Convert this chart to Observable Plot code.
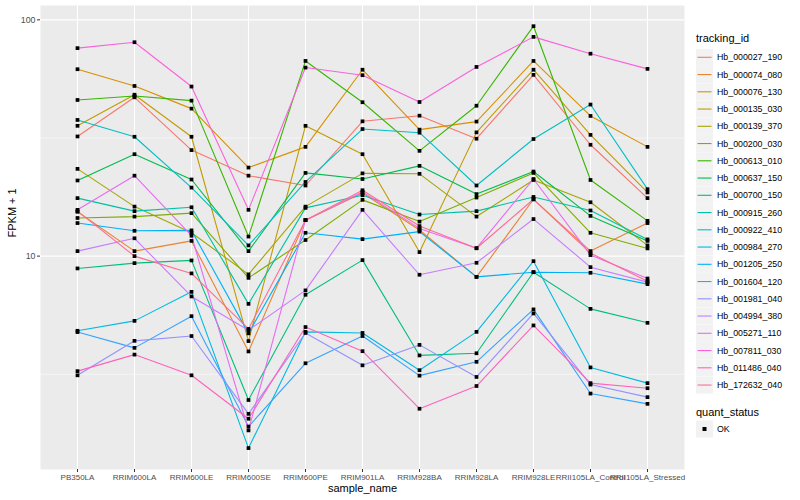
<!DOCTYPE html>
<html><head><meta charset="utf-8">
<script src="https://cdn.jsdelivr.net/npm/d3@7"></script>
<script src="https://cdn.jsdelivr.net/npm/@observablehq/plot@0.6"></script>
<style>
body{margin:0;background:#fff;font-family:"Liberation Sans",Arial,sans-serif;}
#wrap{position:relative;width:800px;height:500px;overflow:hidden;}
#legend{position:absolute;left:0;top:0;}
</style></head><body>
<div id="wrap"><div id="chart"></div><svg id="legend" width="800" height="500"></svg></div>
<script>
const samples = ["PB350LA","RRIM600LA","RRIM600LE","RRIM600SE","RRIM600PE","RRIM901LA","RRIM928BA","RRIM928LA","RRIM928LE","RRII105LA_Control","RRII105LA_Stressed"];
const trackingIds = ["Hb_000027_190","Hb_000074_080","Hb_000076_130","Hb_000135_030","Hb_000139_370","Hb_000200_030","Hb_000613_010","Hb_000637_150","Hb_000700_150","Hb_000915_260","Hb_000922_410","Hb_000984_270","Hb_001205_250","Hb_001604_120","Hb_001981_040","Hb_004994_380","Hb_005271_110","Hb_007811_030","Hb_011486_040","Hb_172632_040"];
const colors = ["#F8766D","#EA8331","#D89000","#C09B00","#A3A500","#7CAE00","#39B600","#00BB4E","#00BF7D","#00C1A3","#00BFC4","#00BAE0","#00B0F6","#35A2FF","#9590FF","#C77CFF","#E76BF3","#FA62DB","#FF62BC","#FF6C91"];

const hb_000027_190 = [32.1, 47.0, 28.1, 21.9, 19.9, 37.2, 39.3, 31.4, 58.5, 29.6, 17.6];
const hb_000074_080 = [15.4, 10.5, 11.6, 3.95, 14.2, 18.5, 12.9, 8.17, 17.4, 10.5, 13.8];
const hb_000076_130 = [61.8, 52.5, 42.1, 23.7, 29.0, 61.5, 34.3, 37.1, 67.0, 39.2, 29.0];
const hb_000135_030 = [35.6, 48.2, 32.0, 4.37, 35.6, 27.0, 10.4, 33.4, 61.5, 32.6, 18.6];
const hb_000139_370 = [23.4, 16.2, 12.55, 8.37, 16.2, 22.4, 22.3, 14.7, 21.0, 16.9, 11.1];
const hb_000200_030 = [14.5, 14.7, 15.2, 8.09, 11.7, 17.3, 14.0, 17.7, 22.5, 12.55, 10.78];
const hb_000613_010 = [45.8, 47.6, 45.5, 12.1, 67.0, 44.8, 27.9, 43.3, 94.0, 21.0, 14.1];
const hb_000637_150 = [20.9, 27.0, 21.1, 10.5, 22.5, 21.2, 24.1, 18.3, 22.8, 14.8, 11.6];
const hb_000700_150 = [8.87, 9.34, 9.59, 2.46, 6.86, 9.62, 3.80, 3.88, 8.55, 5.98, 5.22];
const hb_000915_260 = [17.6, 15.5, 16.1, 6.28, 16.0, 18.1, 15.0, 15.5, 17.8, 15.6, 11.77];
const hb_000922_410 = [37.7, 32.0, 19.5, 11.1, 20.6, 34.5, 33.3, 19.9, 31.3, 43.8, 19.2];
const hb_000984_270 = [4.83, 5.32, 7.06, 1.54, 4.78, 4.73, 3.29, 4.78, 9.52, 3.38, 2.90];
const hb_001205_250 = [13.8, 12.8, 12.85, 4.71, 12.55, 11.8, 12.7, 8.17, 8.55, 8.5, 7.61];
const hb_001604_120 = [4.77, 4.09, 5.57, 1.90, 3.52, 4.59, 3.12, 3.57, 5.95, 2.62, 2.37];
const hb_001981_040 = [3.13, 4.38, 4.59, 2.15, 4.73, 3.45, 4.21, 3.08, 5.72, 2.86, 2.53];
const hb_004994_380 = [10.5, 11.9, 6.75, 4.86, 7.16, 15.7, 8.34, 9.37, 14.35, 8.98, 7.76];
const hb_005271_110 = [15.7, 21.9, 12.2, 1.83, 14.2, 18.7, 13.1, 10.8, 21.2, 10.1, 8.04];
const hb_007811_030 = [75.9, 80.4, 52.2, 15.7, 62.8, 58.3, 44.9, 63.2, 84.7, 71.9, 62.0];
const hb_011486_040 = [3.26, 3.83, 3.13, 2.05, 5.01, 3.96, 2.26, 2.82, 5.09, 2.90, 2.76];
const hb_172632_040 = [15.5, 10.0, 8.45, 4.92, 14.2, 19.0, 13.4, 10.8, 17.4, 10.3, 7.83];

const yTicks = [10, 100];
const yMinor = [3.162, 31.62];
const quantStatus = ["OK"];

const seriesValues = [hb_000027_190, hb_000074_080, hb_000076_130, hb_000135_030, hb_000139_370, hb_000200_030, hb_000613_010, hb_000637_150, hb_000700_150, hb_000915_260, hb_000922_410, hb_000984_270, hb_001205_250, hb_001604_120, hb_001981_040, hb_004994_380, hb_005271_110, hb_007811_030, hb_011486_040, hb_172632_040];

const data = [];
trackingIds.forEach((id, i) => {
  seriesValues[i].forEach((v, j) => data.push({id, sample: samples[j], value: v}));
});

const chart = Plot.plot({
  width: 800, height: 500,
  marginLeft: 40, marginRight: 116, marginTop: 5, marginBottom: 31,
  style: {fontFamily: '"Liberation Sans", Arial, sans-serif', fontSize: "8px", color: "#4D4D4D", background: "white"},
  x: {type: "point", domain: samples, padding: 0.6, label: null},
  y: {type: "log", domain: [1.25, 115], label: null},
  color: {domain: trackingIds, range: colors},
  marks: [
    Plot.frame({fill: "#EBEBEB", stroke: null}),
    Plot.ruleY(yMinor, {stroke: "white", strokeWidth: 0.55}),
    Plot.ruleY(yTicks, {stroke: "white", strokeWidth: 1.1}),
    Plot.ruleX(samples, {stroke: "white", strokeWidth: 1.1}),
    Plot.line(data, {x: "sample", y: "value", z: "id", stroke: "id", strokeWidth: 1.1}),
    Plot.dot(data, {x: "sample", y: "value", symbol: "square", r: 2.1, fill: "black", stroke: null}),
    Plot.axisX({tickSize: 3, tickPadding: 2, stroke: "#333333", fill: "#4D4D4D", fontSize: 8}),
    Plot.axisY({ticks: yTicks, tickSize: 3, tickPadding: 2, tickFormat: d => String(d), stroke: "#333333", fill: "#4D4D4D", fontSize: 8.8}),
    Plot.text(["sample_name"], {frameAnchor: "bottom", dy: 22, fontSize: 11, fill: "black"}),
    Plot.text(["FPKM + 1"], {frameAnchor: "left", rotate: -90, dx: -28, fontSize: 11, fill: "black"})
  ]
});
document.getElementById("chart").appendChild(chart);

// legend (SVG)
const lg = d3.select("#legend").style("font-family", '"Liberation Sans", Arial, sans-serif');
lg.append("text").attr("x", 696).attr("y", 42).attr("font-size", 11).attr("fill", "black").text("tracking_id");
trackingIds.forEach((id, i) => {
  const cy = 57.3 + i * 17.25;
  lg.append("rect").attr("x", 696).attr("y", cy - 8.5).attr("width", 17).attr("height", 17).attr("fill", "#F2F2F2");
  lg.append("line").attr("x1", 697.5).attr("x2", 711.5).attr("y1", cy).attr("y2", cy)
    .attr("stroke", colors[i]).attr("stroke-width", 1.1);
  lg.append("text").attr("x", 717).attr("y", cy).attr("dy", "0.35em").attr("font-size", 8.8).attr("fill", "black").text(id);
});
lg.append("text").attr("x", 696).attr("y", 416).attr("font-size", 11).attr("fill", "black").text("quant_status");
quantStatus.forEach((q, i) => {
  const cy = 429 + i * 17.25;
  lg.append("rect").attr("x", 696).attr("y", cy - 8.5).attr("width", 17).attr("height", 17).attr("fill", "#F2F2F2");
  lg.append("rect").attr("x", 702.5).attr("y", cy - 2).attr("width", 4).attr("height", 4).attr("fill", "black");
  lg.append("text").attr("x", 717).attr("y", cy).attr("dy", "0.35em").attr("font-size", 8.8).attr("fill", "black").text(q);
});
</script>
</body></html>
